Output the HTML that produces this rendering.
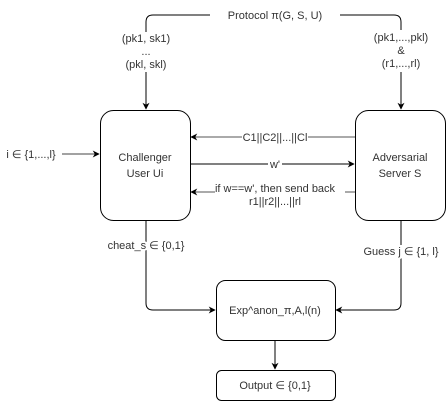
<!DOCTYPE html>
<html><head><meta charset="utf-8"><style>
html,body{margin:0;padding:0;background:#fff;width:446px;height:401px;overflow:hidden}
text{font-family:"Liberation Sans",sans-serif;fill:#333;font-size:11px}
</style></head><body>
<svg width="446" height="401" viewBox="0 0 446 401" xmlns="http://www.w3.org/2000/svg">
<defs>
<marker id="a" viewBox="0 0 10 10" refX="9" refY="5" markerWidth="7" markerHeight="7" orient="auto" markerUnits="userSpaceOnUse"><path d="M0,0 L10,5 L0,10 L3,5 z" fill="#000"/></marker>
</defs>
<g fill="none" stroke="#000" stroke-width="1">
<path d="M210,15 H153 Q146,15 146,22 V109" marker-end="url(#a)"/>
<path d="M340,15 H394 Q401,15 401,22 V109" marker-end="url(#a)"/>
<path d="M62,154 H99" marker-end="url(#a)" stroke="#444"/>
<path d="M355,137 H191" marker-end="url(#a)" stroke="#555"/>
<path d="M190,164 H354" marker-end="url(#a)"/>
<path d="M355,192 H191" marker-end="url(#a)" stroke="#555"/>
<path d="M146,220 V303 Q146,310 153,310 H215" marker-end="url(#a)"/>
<path d="M401,220 V303 Q401,310 394,310 H336" marker-end="url(#a)"/>
<path d="M275,340 V369" marker-end="url(#a)"/>
<rect x="100.5" y="110.5" width="90" height="110" rx="13"/>
<rect x="355.5" y="110.5" width="90" height="110" rx="13"/>
<rect x="216.5" y="280.5" width="119" height="60" rx="9"/>
<rect x="216.5" y="370.5" width="119" height="30" rx="5"/>
</g>
<g text-anchor="middle">
<rect x="210" y="7" width="130" height="16" fill="#fff"/>
<text x="275" y="19" font-size="12">Protocol π(G, S, U)</text>
<rect x="110" y="32" width="72" height="40" fill="#fff"/>
<text x="146" y="42" font-size="10">(pk1, sk1)</text>
<text x="146" y="55" font-size="10">...</text>
<text x="146" y="68" font-size="10">(pkl, skl)</text>
<rect x="368" y="30" width="66" height="42" fill="#fff"/>
<text x="401" y="41" font-size="10">(pk1,...,pkl)</text>
<text x="401" y="54" font-size="10">&amp;</text>
<text x="401" y="67" font-size="10">(r1,...,rl)</text>
<text x="31" y="158" font-size="10">i ∈ {1,...,l}</text>
<rect x="242" y="130" width="66" height="14" fill="#fff"/>
<text x="275" y="141" font-size="10">C1||C2||...||Cl</text>
<rect x="268" y="158" width="14" height="12" fill="#fff"/>
<text x="275" y="168" font-size="10">w'</text>
<rect x="215" y="182" width="130" height="26" fill="#fff"/>
<text x="275" y="192" font-size="10">if w==w', then send back</text>
<text x="275" y="205" font-size="10">r1||r2||...||rl</text>
<text x="146" y="249" font-size="10" style="fill:#333" stroke="#fff" stroke-width="4" paint-order="stroke">cheat_s ∈ {0,1}</text>
<text x="401" y="255" font-size="10" stroke="#fff" stroke-width="4" paint-order="stroke">Guess j ∈ {1, l}</text>
<text x="275" y="314" font-size="12">Exp^anon_π,A,l(n)</text>
<text x="275" y="389" font-size="12">Output ∈ {0,1}</text>
<text x="145" y="161" font-size="12">Challenger</text>
<text x="145" y="177" font-size="12">User Ui</text>
<text x="400" y="161" font-size="12">Adversarial</text>
<text x="400" y="177" font-size="12">Server S</text>
</g>
</svg>
</body></html>
